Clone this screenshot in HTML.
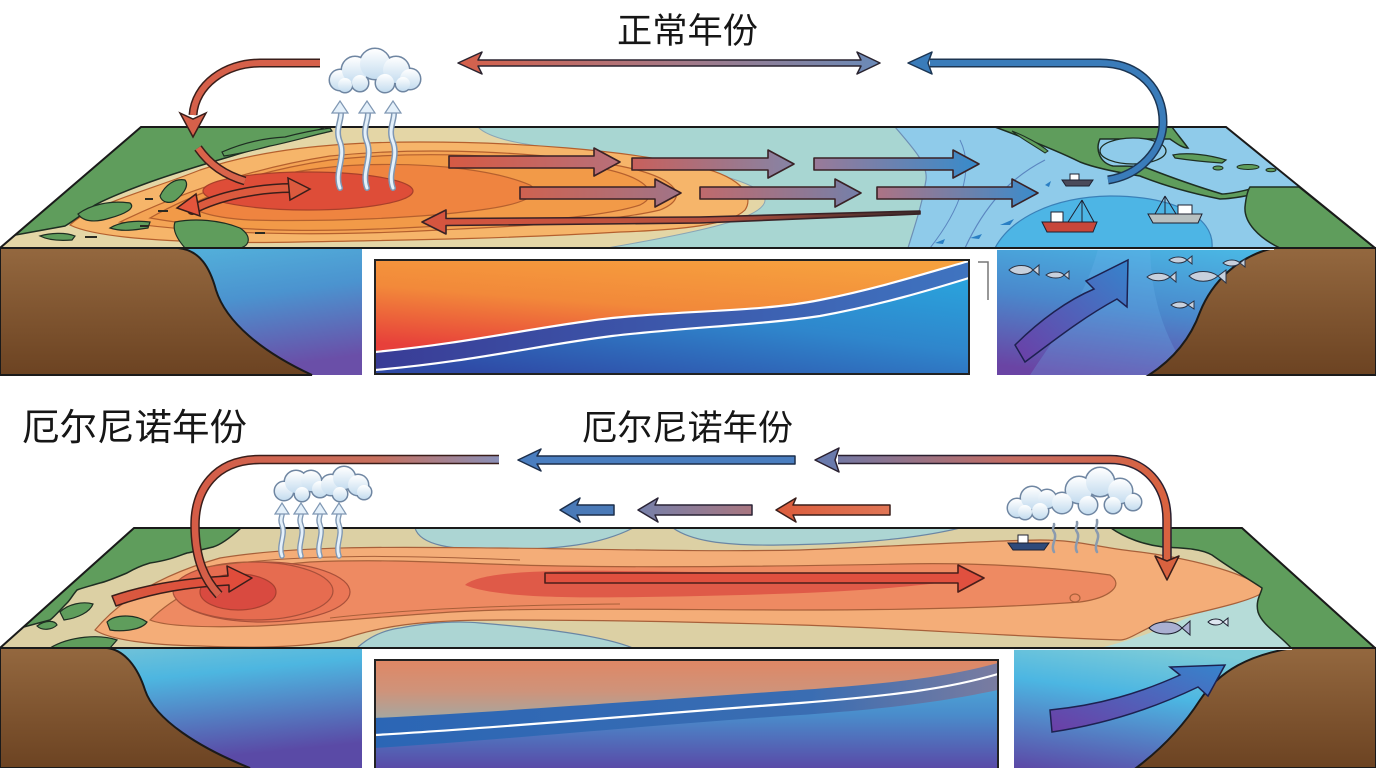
<!DOCTYPE html>
<html><head><meta charset="utf-8"><style>
html,body{margin:0;padding:0;background:#fff;width:1376px;height:768px;overflow:hidden}
svg{display:block}
text{font-family:"Liberation Sans","Noto Sans CJK SC",sans-serif;fill:#161616}
</style></head><body>
<svg width="1376" height="768" viewBox="0 0 1376 768" xmlns="http://www.w3.org/2000/svg">
<defs>
<clipPath id="cTop"><polygon points="141,127 1226,127 1375,248 0,248"/></clipPath>
<clipPath id="cBot"><polygon points="134,528 1242,528 1375,648 0,648"/></clipPath>
<linearGradient id="brown" x1="0" y1="0" x2="0" y2="1"><stop offset="0" stop-color="#94683f"/><stop offset="1" stop-color="#6c4322"/></linearGradient>
<linearGradient id="waterL" x1="0.2" y1="0" x2="0.6" y2="1"><stop offset="0" stop-color="#55b9de"/><stop offset="0.5" stop-color="#4b93cf"/><stop offset="1" stop-color="#6a4fa8"/></linearGradient>
<linearGradient id="waterR" x1="0.6" y1="0" x2="0.2" y2="1"><stop offset="0" stop-color="#4ab7e4"/><stop offset="0.5" stop-color="#4a88cc"/><stop offset="1" stop-color="#6a44a4"/></linearGradient>
<linearGradient id="waterL2" x1="0" y1="0" x2="0.3" y2="1"><stop offset="0" stop-color="#7cc6d6"/><stop offset="0.35" stop-color="#4db6e0"/><stop offset="1" stop-color="#5a4aa6"/></linearGradient>
<linearGradient id="waterR2" x1="0.4" y1="0" x2="0" y2="1"><stop offset="0" stop-color="#7ccbd8"/><stop offset="0.35" stop-color="#4cb6e2"/><stop offset="1" stop-color="#5c48a6"/></linearGradient>
<linearGradient id="boxOr" x1="0.7" y1="0" x2="0.2" y2="1"><stop offset="0" stop-color="#f6a03e"/><stop offset="0.5" stop-color="#f2893a"/><stop offset="1" stop-color="#e7403a"/></linearGradient>
<linearGradient id="boxBand" x1="0" y1="0" x2="1" y2="0"><stop offset="0" stop-color="#393c96"/><stop offset="1" stop-color="#3f74c0"/></linearGradient>
<linearGradient id="boxBlue" x1="0.9" y1="0" x2="0.2" y2="1"><stop offset="0" stop-color="#29a8df"/><stop offset="0.5" stop-color="#2f86cc"/><stop offset="1" stop-color="#2f4aa6"/></linearGradient>
<linearGradient id="box2Bg" x1="0" y1="0" x2="0" y2="1"><stop offset="0" stop-color="#4fb8e0"/><stop offset="0.5" stop-color="#4a8ccb"/><stop offset="1" stop-color="#5a48a6"/></linearGradient>
<linearGradient id="box2Top" gradientUnits="userSpaceOnUse" x1="0" y1="662" x2="0" y2="720"><stop offset="0" stop-color="#de8866"/><stop offset="0.5" stop-color="#cf937a"/><stop offset="1" stop-color="#a3a8a2"/></linearGradient>
<linearGradient id="box2Band" x1="0" y1="0" x2="1" y2="0"><stop offset="0" stop-color="#2b66b5"/><stop offset="0.7" stop-color="#3a6db2"/><stop offset="1" stop-color="#7a7ca0"/></linearGradient>
<linearGradient id="cloud" x1="0" y1="0" x2="0" y2="1"><stop offset="0" stop-color="#ffffff"/><stop offset="1" stop-color="#c4dcef"/></linearGradient>
<linearGradient id="a1" x1="0" y1="0" x2="1" y2="0"><stop offset="0" stop-color="#d65a44"/><stop offset="1" stop-color="#b7707a"/></linearGradient>
<linearGradient id="a2" x1="0" y1="0" x2="1" y2="0"><stop offset="0" stop-color="#c8605c"/><stop offset="1" stop-color="#8584a6"/></linearGradient>
<linearGradient id="a3" x1="0" y1="0" x2="1" y2="0"><stop offset="0" stop-color="#9a7a98"/><stop offset="1" stop-color="#378bcb"/></linearGradient>
<linearGradient id="b1" x1="0" y1="0" x2="1" y2="0"><stop offset="0" stop-color="#cf6250"/><stop offset="1" stop-color="#a07488"/></linearGradient>
<linearGradient id="b2" x1="0" y1="0" x2="1" y2="0"><stop offset="0" stop-color="#c06a6c"/><stop offset="1" stop-color="#7480aa"/></linearGradient>
<linearGradient id="b3" x1="0" y1="0" x2="1" y2="0"><stop offset="0" stop-color="#ad7384"/><stop offset="1" stop-color="#3a8ccc"/></linearGradient>
<linearGradient id="row3" x1="0" y1="0" x2="1" y2="0"><stop offset="0" stop-color="#d8553f"/><stop offset="0.6" stop-color="#b2503e"/><stop offset="1" stop-color="#3a2a2a"/></linearGradient>
<linearGradient id="topDbl" x1="0" y1="0" x2="1" y2="0"><stop offset="0" stop-color="#d6604a"/><stop offset="0.5" stop-color="#a87884"/><stop offset="1" stop-color="#6a8ab8"/></linearGradient>
<linearGradient id="elA" gradientUnits="userSpaceOnUse" x1="815" y1="0" x2="1170" y2="0"><stop offset="0" stop-color="#6a7aac"/><stop offset="0.55" stop-color="#c46c62"/><stop offset="1" stop-color="#d9623f"/></linearGradient>
<linearGradient id="elC" gradientUnits="userSpaceOnUse" x1="190" y1="0" x2="500" y2="0"><stop offset="0" stop-color="#d65c46"/><stop offset="0.6" stop-color="#c8705e"/><stop offset="1" stop-color="#8a90b8"/></linearGradient>
<linearGradient id="s2" x1="0" y1="0" x2="1" y2="0"><stop offset="0" stop-color="#7680aa"/><stop offset="1" stop-color="#a97680"/></linearGradient>
<linearGradient id="s3" x1="0" y1="0" x2="1" y2="0"><stop offset="0" stop-color="#dc5d3d"/><stop offset="1" stop-color="#e07555"/></linearGradient>
<linearGradient id="upArr" x1="0" y1="1" x2="1" y2="0"><stop offset="0" stop-color="#6c3ea6"/><stop offset="1" stop-color="#3684cc"/></linearGradient>
<linearGradient id="surfL" x1="0" y1="0" x2="1" y2="0"><stop offset="0" stop-color="#d85a40"/><stop offset="1" stop-color="#e14a3a"/></linearGradient>
</defs>

<!-- ============ TOP PANEL ============ -->
<text x="617" y="43" font-size="35" textLength="141" lengthAdjust="spacingAndGlyphs">正常年份</text>

<!-- front face -->
<rect x="0" y="248" width="362" height="127" fill="url(#waterL)"/>
<path d="M0,248 L178,248 C200,250 210,268 216,290 C226,322 262,352 312,375 L0,375 Z" fill="url(#brown)" stroke="#1a1a1a" stroke-width="2"/>
<rect x="997" y="248" width="379" height="127" fill="url(#waterR)"/>
<path d="M1030,375 C1060,330 1090,290 1100,240 L1150,240 C1150,290 1160,330 1190,375 Z" fill="#6fb6ee" opacity="0.25"/>
<path d="M1274,248 L1376,248 L1376,375 L1149,375 C1172,360 1190,340 1200,312 C1212,282 1238,256 1274,248 Z" fill="url(#brown)" stroke="#1a1a1a" stroke-width="2"/>
<line x1="997" y1="249" x2="1274" y2="249" stroke="#e8f6ff" stroke-width="2"/>
<!-- inner box -->
<rect x="375" y="260" width="594" height="114" fill="url(#boxBlue)"/>
<path d="M375,260 L969,260 L969,278 C930,290 880,305 820,316 C760,325 690,327 612,336 C540,345 470,362 375,370 Z" fill="url(#boxBand)"/>
<path d="M375,260 L969,260 L969,261 C930,272 880,288 820,300 C760,312 690,310 612,318 C540,326 470,343 375,352 Z" fill="url(#boxOr)"/>
<path d="M375,352 C470,343 540,326 612,318 C690,310 760,312 820,300 C880,288 930,272 969,261" fill="none" stroke="#fff" stroke-width="2.2"/>
<path d="M375,370 C470,362 540,345 612,336 C690,327 760,325 820,316 C880,305 930,290 969,278" fill="none" stroke="#fff" stroke-width="2.2"/>
<rect x="375" y="260" width="594" height="114" fill="none" stroke="#222" stroke-width="2"/>
<path d="M978,262 L988,262 L988,300" fill="none" stroke="#777" stroke-width="1.5"/>
<!-- right water arrow & fish -->
<path d="M1015,345 C1040,320 1068,300 1094,289 L1086,281 L1128,260 L1127,307 L1117,299 C1082,318 1052,342 1025,362 Z" fill="url(#upArr)" stroke="#1d2150" stroke-width="1.5"/>
<g fill="#c7d0dd" stroke="#2a3346" stroke-width="1">
<path d="M1009,270 C1015,264 1028,264 1033,270 C1028,276 1015,276 1009,270 Z M1033,270 L1039,265 L1039,275 Z"/>
<path d="M1046,275 C1051,271 1061,271 1064,275 C1061,279 1051,279 1046,275 Z M1064,275 L1069,271 L1069,279 Z"/>
<path d="M1169,260 C1174,256 1183,256 1187,260 C1183,264 1174,264 1169,260 Z M1187,260 L1192,256 L1192,264 Z"/>
<path d="M1223,263 C1228,259 1236,259 1240,263 C1236,267 1228,267 1223,263 Z M1240,263 L1245,259 L1245,267 Z"/>
<path d="M1147,277 C1153,272 1164,272 1170,277 C1164,282 1153,282 1147,277 Z M1170,277 L1176,272 L1176,282 Z"/>
<path d="M1189,276 C1196,270 1210,270 1218,276 C1210,283 1196,283 1189,276 Z M1218,276 L1226,270 L1226,283 Z"/>
<path d="M1171,305 C1176,301 1184,301 1188,305 C1184,309 1176,309 1171,305 Z M1188,305 L1194,301 L1194,309 Z"/>
</g>

<!-- top face -->
<g clip-path="url(#cTop)">
<rect x="0" y="127" width="1376" height="121" fill="#8fcbea"/>
<path d="M470,127 L895,127 C915,150 928,165 926,180 C922,205 915,225 908,248 L600,248 Z" fill="#a8d6d2" stroke="#6d8fb5" stroke-width="1.2"/>
<path d="M0,248 L0,127 L478,127 C495,145 560,148 640,160 C720,172 765,185 765,200 C765,218 700,232 607,248 Z" fill="#e4d6a6" stroke="#8aa5b5" stroke-width="1"/>
<path d="M70,225 C90,205 150,190 200,170 C260,150 330,142 420,142 C520,142 620,150 690,165 C740,175 755,195 745,210 C730,225 680,230 620,232 C520,238 420,240 300,242 C200,244 100,240 70,225 Z" fill="#f6b56a" stroke="#b5602e" stroke-width="1.2"/>
<path d="M120,222 C170,198 240,170 330,156 C430,146 540,152 620,166 C680,178 690,198 660,210 C610,222 520,226 440,230 C330,236 220,236 120,222 Z" fill="#f4a455" stroke="#b5602e" stroke-width="1.2"/>
<path d="M150,218 C190,195 250,172 330,160 C420,150 520,155 600,168 C650,178 660,195 640,205 C600,218 520,222 440,226 C340,232 240,234 150,218 Z" fill="#f29a48" stroke="#b5602e" stroke-width="1.2"/>
<path d="M190,205 C230,185 290,168 360,165 C440,162 500,172 530,185 C545,195 520,205 480,210 C420,218 330,222 250,220 C215,218 195,212 190,205 Z" fill="#ef8440" stroke="#b5602e" stroke-width="1.2"/>
<ellipse cx="308" cy="191" rx="105" ry="19" fill="#de4d38" stroke="#a8402a" stroke-width="1.2"/>
<path d="M995,248 C1010,220 1050,197 1110,196 C1170,196 1215,215 1212,248 Z" fill="#4db5e5" stroke="#3a80b8" stroke-width="1.2"/>
<path d="M1045,160 C1010,178 985,205 965,248" fill="none" stroke="#5b86c0" stroke-width="1.2"/>
<path d="M960,140 C975,170 960,210 930,248" fill="none" stroke="#5b86c0" stroke-width="1"/>
<g fill="#2a7fc4"><path d="M1045,185 l6,-4 l-2,6 z"/><path d="M1000,225 l14,-6 l-4,6 z"/><path d="M970,238 l12,-4 l-3,5 z"/><path d="M935,243 l10,-4 l-2,5 z"/></g>
<!-- Asia land -->
<path d="M141,127 L325,127 C300,140 262,146 232,156 C205,164 178,172 150,182 C128,190 108,198 95,205 C85,212 75,220 65,226 L10,236 Z" fill="#5f9d5c" stroke="#1e2e22" stroke-width="1.5"/>
<path d="M222,152 C245,142 265,138 285,137 C300,133 315,130 330,128 L332,131 C310,136 290,142 270,146 C255,150 238,154 224,156 Z" fill="#5f9d5c" stroke="#1e2e22" stroke-width="1.2"/>
<path d="M78,214 C90,205 110,200 130,203 C136,208 125,214 110,218 C98,222 84,223 78,214 Z" fill="#5f9d5c" stroke="#1e2e22" stroke-width="1.2"/>
<path d="M160,196 C165,185 175,178 185,180 C190,186 182,195 176,200 C170,204 162,203 160,196 Z" fill="#5f9d5c" stroke="#1e2e22" stroke-width="1.2"/>
<path d="M110,228 C120,222 135,220 150,222 L148,228 C135,230 122,232 110,228 Z" fill="#5f9d5c" stroke="#1e2e22" stroke-width="1.2"/>
<path d="M175,222 C195,218 220,220 240,228 C252,236 250,246 240,248 L185,248 C178,240 172,230 175,222 Z" fill="#5f9d5c" stroke="#1e2e22" stroke-width="1.2"/>
<path d="M40,236 C50,233 65,232 75,236 L72,240 C60,241 48,240 40,236 Z" fill="#5f9d5c" stroke="#1e2e22" stroke-width="1.2"/>
<g fill="#2a2a22"><rect x="145" y="198" width="8" height="2"/><rect x="158" y="210" width="10" height="2"/><rect x="140" y="225" width="9" height="2"/><rect x="85" y="236" width="12" height="2"/><rect x="255" y="232" width="10" height="2"/></g>
<!-- Americas land -->
<path d="M995,127 L1172,127 C1177,134 1183,141 1188,148 C1182,148 1176,143 1170,139 L1100,139 C1095,150 1100,163 1113,166 C1128,166 1140,166 1147,168 C1165,175 1195,186 1222,194 C1232,194 1245,190 1256,188 L1256,194 C1245,196 1232,199 1220,199 C1195,194 1165,186 1140,176 C1115,172 1095,168 1080,162 C1060,152 1030,140 995,127 Z" fill="#5f9d5c" stroke="#1e2e22" stroke-width="1.5"/>
<ellipse cx="1133" cy="151" rx="33" ry="13" fill="#8fcbea" stroke="#1e2e22" stroke-width="1.3"/>
<path d="M1250,187 L1299,187 L1376,249 L1282,249 C1258,238 1244,222 1245,207 C1246,197 1248,190 1250,187 Z" fill="#5f9d5c" stroke="#1e2e22" stroke-width="1.5"/>
<path d="M1173,155 C1188,152 1210,155 1226,160 L1222,163 C1206,162 1188,160 1175,158 Z" fill="#5f9d5c" stroke="#1e2e22" stroke-width="1.2"/>
<ellipse cx="1248" cy="167" rx="11" ry="2.5" fill="#5f9d5c" stroke="#1e2e22"/>
<ellipse cx="1218" cy="168" rx="5" ry="2" fill="#5f9d5c" stroke="#1e2e22"/>
<ellipse cx="1271" cy="170" rx="5" ry="1.8" fill="#5f9d5c" stroke="#1e2e22"/>
<path d="M1012,131 C1025,136 1040,144 1048,151 L1045,153 C1035,146 1020,138 1012,131 Z" fill="#5f9d5c" stroke="#1e2e22" stroke-width="1"/>
</g>
<polygon points="141,127 1226,127 1375,248 0,248" fill="none" stroke="#1a1a1a" stroke-width="2"/>

<!-- boats -->
<g stroke="#1e2030" stroke-width="1">
<rect x="1070" y="174" width="9" height="6" fill="#fff"/>
<path d="M1062,180 L1093,180 L1089,186 L1066,186 Z" fill="#4a4a5a"/>
<path d="M1042,222 L1097,222 L1093,232 L1047,232 Z" fill="#c8463a"/>
<rect x="1051" y="212" width="12" height="10" fill="#fff"/>
<path d="M1082,200 L1082,222 M1082,200 L1068,222 M1082,200 L1094,222" fill="none"/>
<path d="M1148,214 L1202,214 L1198,223 L1153,223 Z" fill="#b8c0c0"/>
<rect x="1178" y="205" width="14" height="9" fill="#fff"/>
<path d="M1165,196 L1165,214 M1165,196 L1155,214 M1165,196 L1176,214" fill="none"/>
</g>

<!-- surface arrows -->
<g stroke="#3a2226" stroke-width="1.6" stroke-linejoin="round">
<polygon points="449,156 594,156 594,148 620,162 594,176 594,168 449,168" fill="url(#a1)"/>
<polygon points="632,158 768,158 768,150 794,164 768,178 768,170 632,170" fill="url(#a2)"/>
<polygon points="814,158 953,158 953,150 979,164 953,178 953,170 814,170" fill="url(#a3)"/>
<polygon points="520,187 655,187 655,179 681,193 655,207 655,199 520,199" fill="url(#b1)"/>
<polygon points="700,187 835,187 835,179 861,193 835,207 835,199 700,199" fill="url(#b2)"/>
<polygon points="877,187 1012,187 1012,179 1038,193 1012,207 1012,199 877,199" fill="url(#b3)"/>
<polygon points="422,222 446,210 446,218.5 700,217 920,211 920,214 700,223 446,225.5 446,234" fill="url(#row3)"/>
</g>
<!-- warm pool double arrow -->
<path d="M192,210 C220,195 260,188 292,188" fill="none" stroke="#3a1e1a" stroke-width="10" stroke-linecap="round"/>
<path d="M192,210 C220,195 260,188 292,188" fill="none" stroke="#dc5a3e" stroke-width="7" stroke-linecap="round"/>
<polygon points="310,189 288,178 290,200" fill="#dc5a3e" stroke="#3a1e1a" stroke-width="1.5"/>
<polygon points="177,208 196,194 200,216" fill="#e4553c" stroke="#3a1e1a" stroke-width="1.5"/>
<path d="M198,148 C210,165 225,175 245,181" fill="none" stroke="#3a1e1a" stroke-width="9"/>
<path d="M198,148 C210,165 225,175 245,181" fill="none" stroke="#d9634a" stroke-width="6"/>

<!-- sky arrows -->
<path d="M320,63 L260,63 C225,63 195,85 193,115" fill="none" stroke="#3a1e1a" stroke-width="9"/>
<path d="M320,63 L260,63 C225,63 195,85 193,115" fill="none" stroke="#d6604a" stroke-width="6"/>
<polygon points="180,113 193,119 206,113 193,137" fill="#d6604a" stroke="#3a1e1a" stroke-width="1.5"/>
<polygon points="458,63 482,52 478,60 861,60 857,52 880,63 857,74 861,66 478,66 482,74" fill="url(#topDbl)" stroke="#2a2430" stroke-width="1.5" stroke-linejoin="round"/>
<path d="M930,63 L1100,63 C1140,63 1163,90 1163,122 C1163,150 1140,175 1108,180" fill="none" stroke="#1c3552" stroke-width="9"/>
<path d="M930,63 L1100,63 C1140,63 1163,90 1163,122 C1163,150 1140,175 1108,180" fill="none" stroke="#3a7cba" stroke-width="6"/>
<polygon points="908,63 932,52 928,63 932,74" fill="#3a7cba" stroke="#1c3552" stroke-width="1.5" stroke-linejoin="round"/>

<!-- rising arrows -->
<g fill="none" stroke-linecap="round">
<path d="M340,188 C334,172 346,158 340,142 C334,128 344,118 340,108" stroke="#7f97b3" stroke-width="6"/>
<path d="M367,188 C361,172 373,158 367,142 C361,128 371,118 367,108" stroke="#7f97b3" stroke-width="6"/>
<path d="M393,188 C387,172 399,158 393,142 C387,128 397,118 393,108" stroke="#7f97b3" stroke-width="6"/>
<path d="M340,188 C334,172 346,158 340,142 C334,128 344,118 340,108" stroke="#e4f0fa" stroke-width="3"/>
<path d="M367,188 C361,172 373,158 367,142 C361,128 371,118 367,108" stroke="#e4f0fa" stroke-width="3"/>
<path d="M393,188 C387,172 399,158 393,142 C387,128 397,118 393,108" stroke="#e4f0fa" stroke-width="3"/>
</g>
<g fill="#e4f0fa" stroke="#7f97b3" stroke-width="1.2">
<polygon points="332,113 340,101 348,113"/><polygon points="359,113 367,101 375,113"/><polygon points="385,113 393,101 401,113"/>
</g>
<!-- cloud top -->
<g stroke="#6f86a2" stroke-width="3" fill="#6f86a2">
<circle cx="340" cy="80" r="10"/><circle cx="355" cy="70" r="13"/><circle cx="375" cy="64" r="15"/><circle cx="396" cy="70" r="13"/><circle cx="410" cy="79" r="10"/><circle cx="360" cy="83" r="8"/><circle cx="385" cy="83" r="9"/><circle cx="403" cy="84" r="7"/><circle cx="345" cy="85" r="7"/>
</g>
<g fill="url(#cloud)">
<circle cx="340" cy="80" r="10"/><circle cx="355" cy="70" r="13"/><circle cx="375" cy="64" r="15"/><circle cx="396" cy="70" r="13"/><circle cx="410" cy="79" r="10"/><circle cx="360" cy="83" r="8"/><circle cx="385" cy="83" r="9"/><circle cx="403" cy="84" r="7"/><circle cx="345" cy="85" r="7"/>
</g>

<!-- ============ BOTTOM PANEL ============ -->
<text x="22" y="440" font-size="37" textLength="225" lengthAdjust="spacingAndGlyphs">厄尔尼诺年份</text>
<text x="582" y="440" font-size="35" textLength="211" lengthAdjust="spacingAndGlyphs">厄尔尼诺年份</text>

<!-- front face -->
<rect x="0" y="648" width="362" height="120" fill="url(#waterL2)"/>
<path d="M0,648 L107,648 C125,650 138,668 145,690 C155,720 200,748 250,768 L0,768 Z" fill="url(#brown)" stroke="#1a1a1a" stroke-width="2"/>
<rect x="1014" y="648" width="362" height="120" fill="url(#waterR2)"/>
<path d="M1292,648 L1376,648 L1376,768 L1136,768 C1160,750 1182,728 1200,700 C1220,670 1250,655 1292,648 Z" fill="url(#brown)" stroke="#1a1a1a" stroke-width="2"/>
<line x1="1014" y1="649" x2="1292" y2="649" stroke="#eef8ff" stroke-width="2"/>
<!-- inner box 2 -->
<rect x="375" y="660" width="623" height="110" fill="url(#box2Bg)"/>
<path d="M375,660 L998,660 L998,690 C950,700 900,708 800,715 C650,725 500,740 375,748 Z" fill="url(#box2Band)"/>
<path d="M375,660 L998,660 L998,663 C950,676 900,683 800,690 C650,700 500,712 375,718 Z" fill="url(#box2Top)"/>
<path d="M375,735 C500,728 650,714 800,703 C900,695 950,688 998,674" fill="none" stroke="#fff" stroke-width="2.2"/>
<rect x="375" y="660" width="623" height="110" fill="none" stroke="#222" stroke-width="2"/>
<path d="M1050,710 C1100,705 1140,693 1180,675 L1170,667 L1225,665 L1208,696 L1198,687 C1150,710 1100,725 1052,732 Z" fill="url(#upArr)" stroke="#1d2150" stroke-width="1.5"/>

<!-- top face 2 -->
<g clip-path="url(#cBot)">
<rect x="0" y="528" width="1376" height="120" fill="#dcd0a4"/>
<path d="M415,528 C420,545 450,550 500,550 C560,549 600,545 633,528 Z" fill="#acd5d3" stroke="#6a86a4" stroke-width="1.2"/>
<path d="M673,528 C690,540 720,546 780,545 C850,544 910,540 960,528 Z" fill="#acd5d3" stroke="#6a86a4" stroke-width="1.2"/>
<path d="M357,648 C370,636 385,630 400,628 C430,622 460,621 480,623 C540,628 600,635 633,648 Z" fill="#acd5d3" stroke="#6a86a4" stroke-width="1.2"/>
<path d="M1100,648 C1140,638 1170,626 1200,612 C1230,598 1255,588 1270,586 C1278,608 1286,632 1294,648 Z" fill="#b6dcd8"/>
<path d="M95,630 C120,600 160,575 220,558 C300,545 400,547 500,548 C600,549 700,552 800,550 C900,546 1000,540 1040,540 C1080,540 1100,548 1140,552 C1200,560 1250,575 1265,590 C1260,600 1200,612 1167,620 C1140,630 1130,640 1120,640 C1000,636 900,628 800,625 C700,622 600,620 500,620 C420,620 380,626 340,640 C300,648 250,648 200,646 C150,645 110,640 95,630 Z" fill="#f4ad78" stroke="#a8603a" stroke-width="1.2"/>
<path d="M150,620 C180,590 230,568 310,562 C400,558 480,565 560,566 C680,568 800,566 900,564 C980,562 1060,568 1110,575 C1125,585 1110,598 1080,602 C1000,608 900,610 800,610 C700,610 600,608 500,610 C420,612 340,622 260,626 C200,628 165,626 150,620 Z" fill="#ee8a62" stroke="#a8603a" stroke-width="1.2"/>
<ellipse cx="262" cy="592" rx="88" ry="30" fill="#ea7656" stroke="#a8503a" stroke-width="1.2"/>
<ellipse cx="253" cy="591" rx="80" ry="29" fill="#e66c50" stroke="#a8503a" stroke-width="1.2"/>
<path d="M465,585 C480,572 540,570 620,571 C720,572 820,574 960,580 C880,592 780,594 700,596 C600,598 500,600 465,585 Z" fill="#df5a48"/>
<ellipse cx="238" cy="592" rx="38" ry="18" fill="#d94a40" stroke="#a84030" stroke-width="1.2"/>
<ellipse cx="1075" cy="598" rx="5" ry="4" fill="none" stroke="#a8603a" stroke-width="1.2"/>
<path d="M330,618 C420,608 520,605 620,604" fill="none" stroke="#a8603a" stroke-width="1"/>
<path d="M200,568 C300,552 420,556 520,560" fill="none" stroke="#a8603a" stroke-width="1"/>
<!-- left land -->
<path d="M134,528 L241,528 C230,538 220,545 213,547 C200,550 193,552 187,553 C178,556 170,560 150,563 C140,566 132,570 127,573 C115,578 105,582 100,583 C90,586 82,588 77,590 C72,596 70,600 67,603 C60,610 55,616 50,620 L20,628 Z" fill="#5f9d5c" stroke="#1e2e22" stroke-width="1.5"/>
<path d="M60,612 C68,604 83,601 93,604 C90,612 78,618 64,620 Z" fill="#5f9d5c" stroke="#1e2e22" stroke-width="1.2"/>
<path d="M107,622 C115,614 135,614 147,622 C142,630 122,632 110,630 Z" fill="#5f9d5c" stroke="#1e2e22" stroke-width="1.2"/>
<path d="M37,626 C45,620 55,620 57,625 C52,630 42,631 37,626 Z" fill="#5f9d5c" stroke="#1e2e22" stroke-width="1.2"/>
<path d="M50,648 C70,636 100,634 117,640 L110,648 Z" fill="#5f9d5c" stroke="#1e2e22" stroke-width="1.2"/>
<!-- right land -->
<path d="M1111,528 L1242,528 L1376,649 L1292,649 C1280,635 1262,625 1258,612 C1255,600 1262,592 1262,588 C1250,580 1230,568 1212,555 C1200,548 1180,548 1163,547 C1145,545 1125,538 1111,528 Z" fill="#5f9d5c" stroke="#1e2e22" stroke-width="1.5"/>
</g>
<polygon points="134,528 1242,528 1375,648 0,648" fill="none" stroke="#1a1a1a" stroke-width="2"/>

<!-- boat & fish bottom -->
<g stroke="#1e2030" stroke-width="1">
<rect x="1018" y="535" width="10" height="8" fill="#fff"/>
<path d="M1008,543 L1049,543 L1044,550 L1013,550 Z" fill="#2f4a7a"/>
<path d="M1149,628 C1157,620 1175,620 1182,628 C1175,636 1157,636 1149,628 Z M1182,628 L1190,621 L1190,635 Z" fill="#aab0d2"/>
<path d="M1208,622 C1212,618 1220,618 1223,622 C1220,626 1212,626 1208,622 Z M1223,622 L1228,618 L1228,626 Z" fill="#dde6f0"/>
</g>
<!-- wavy lines right -->
<g fill="none" stroke="#8a9aae" stroke-width="2.5" stroke-linecap="round">
<path d="M1054,552 C1050,545 1058,538 1054,532 C1051,528 1055,526 1054,524"/>
<path d="M1077,552 C1073,545 1081,538 1077,532 C1074,528 1078,526 1077,522"/>
<path d="M1097,552 C1093,545 1101,538 1097,532 C1094,528 1098,526 1097,520"/>
</g>

<!-- surface arrows bottom -->
<path d="M112,596 C150,583 190,578 228,576 L227,566 L252,578 L229,592 L229,585 C190,587 155,592 116,606 Z" fill="url(#surfL)" stroke="#3a1e1a" stroke-width="1.5" stroke-linejoin="round"/>
<polygon points="545,573 958,573 958,565 984,578 958,592 958,583 545,583" fill="#e0503f" stroke="#4a1e1a" stroke-width="1.6" stroke-linejoin="round"/>

<!-- rising arrows bottom -->
<g fill="none" stroke-linecap="round">
<path d="M282,556 C278,545 286,535 282,525 C279,518 284,514 282,510" stroke="#7f97b3" stroke-width="5.5"/>
<path d="M301,556 C297,545 305,535 301,525 C298,518 303,514 301,510" stroke="#7f97b3" stroke-width="5.5"/>
<path d="M320,556 C316,545 324,535 320,525 C317,518 322,514 320,510" stroke="#7f97b3" stroke-width="5.5"/>
<path d="M339,556 C335,545 343,535 339,525 C336,518 341,514 339,510" stroke="#7f97b3" stroke-width="5.5"/>
<path d="M282,556 C278,545 286,535 282,525 C279,518 284,514 282,510" stroke="#e4f0fa" stroke-width="2.8"/>
<path d="M301,556 C297,545 305,535 301,525 C298,518 303,514 301,510" stroke="#e4f0fa" stroke-width="2.8"/>
<path d="M320,556 C316,545 324,535 320,525 C317,518 322,514 320,510" stroke="#e4f0fa" stroke-width="2.8"/>
<path d="M339,556 C335,545 343,535 339,525 C336,518 341,514 339,510" stroke="#e4f0fa" stroke-width="2.8"/>
</g>
<g fill="#e4f0fa" stroke="#7f97b3" stroke-width="1.2">
<polygon points="275,514 282,503 289,514"/><polygon points="294,514 301,503 308,514"/><polygon points="313,514 320,503 327,514"/><polygon points="332,514 339,503 346,514"/>
</g>

<!-- clouds bottom -->
<g stroke="#6f86a2" stroke-width="3" fill="#6f86a2">
<circle cx="284" cy="491" r="9"/><circle cx="296" cy="482" r="11"/><circle cx="311" cy="481" r="10"/><circle cx="320" cy="489" r="8"/><circle cx="331" cy="485" r="10"/><circle cx="344" cy="478" r="11"/><circle cx="358" cy="485" r="10"/><circle cx="364" cy="492" r="7"/><circle cx="302" cy="494" r="7"/><circle cx="340" cy="494" r="7"/>
<circle cx="1017" cy="508" r="9"/><circle cx="1032" cy="498" r="11"/><circle cx="1047" cy="499" r="9"/><circle cx="1040" cy="511" r="8"/><circle cx="1025" cy="512" r="7"/>
<circle cx="1062" cy="503" r="10"/><circle cx="1079" cy="490" r="13"/><circle cx="1100" cy="482" r="14"/><circle cx="1120" cy="491" r="12"/><circle cx="1133" cy="502" r="8"/><circle cx="1088" cy="505" r="9"/><circle cx="1113" cy="505" r="8"/>
</g>
<g fill="url(#cloud)">
<circle cx="284" cy="491" r="9"/><circle cx="296" cy="482" r="11"/><circle cx="311" cy="481" r="10"/><circle cx="320" cy="489" r="8"/><circle cx="331" cy="485" r="10"/><circle cx="344" cy="478" r="11"/><circle cx="358" cy="485" r="10"/><circle cx="364" cy="492" r="7"/><circle cx="302" cy="494" r="7"/><circle cx="340" cy="494" r="7"/>
<circle cx="1017" cy="508" r="9"/><circle cx="1032" cy="498" r="11"/><circle cx="1047" cy="499" r="9"/><circle cx="1040" cy="511" r="8"/><circle cx="1025" cy="512" r="7"/>
</g>
<g fill="url(#cloud)">
<circle cx="1079" cy="490" r="13"/><circle cx="1100" cy="482" r="14"/><circle cx="1120" cy="491" r="12"/><circle cx="1133" cy="502" r="8"/><circle cx="1088" cy="505" r="9"/><circle cx="1113" cy="505" r="8"/><circle cx="1062" cy="503" r="10"/>
</g>

<!-- sky arrows bottom -->
<path d="M838,459.5 L1110,459.5 C1145,459.5 1167,485 1167,520 L1167,560" fill="none" stroke="#2a2030" stroke-width="9.5"/>
<path d="M838,459.5 L1110,459.5 C1145,459.5 1167,485 1167,520 L1167,560" fill="none" stroke="url(#elA)" stroke-width="6.5"/>
<polygon points="815,460 839,448 835,460 839,472" fill="#6a7aac" stroke="#2a2030" stroke-width="1.5" stroke-linejoin="round"/>
<polygon points="1155,556 1167,561 1179,556 1167,580" fill="#d9623f" stroke="#3a1e1a" stroke-width="1.5" stroke-linejoin="round"/>
<polygon points="518,460 541,449 537,456 795,456 795,464 537,464 541,471" fill="#4a7ec0" stroke="#1c2e4a" stroke-width="1.5" stroke-linejoin="round"/>
<path d="M499,459.5 L260,459.5 C215,459.5 195,490 195,525 C195,560 205,580 219,595" fill="none" stroke="#3a1e1a" stroke-width="9.5"/>
<path d="M499,459.5 L260,459.5 C215,459.5 195,490 195,525 C195,560 205,580 219,595" fill="none" stroke="url(#elC)" stroke-width="6.5"/>
<g stroke-width="1.5" stroke-linejoin="round">
<polygon points="560,510 580,498 577,505 614,505 614,515 577,515 580,522" fill="#4a7ab8" stroke="#1c2e4a"/>
<polygon points="638,510 658,498 655,505 752,505 752,515 655,515 658,522" fill="url(#s2)" stroke="#2a2436"/>
<polygon points="776,510 796,498 793,505 890,505 890,515 793,515 796,522" fill="url(#s3)" stroke="#3a1e1a"/>
</g>
</svg>
</body></html>
